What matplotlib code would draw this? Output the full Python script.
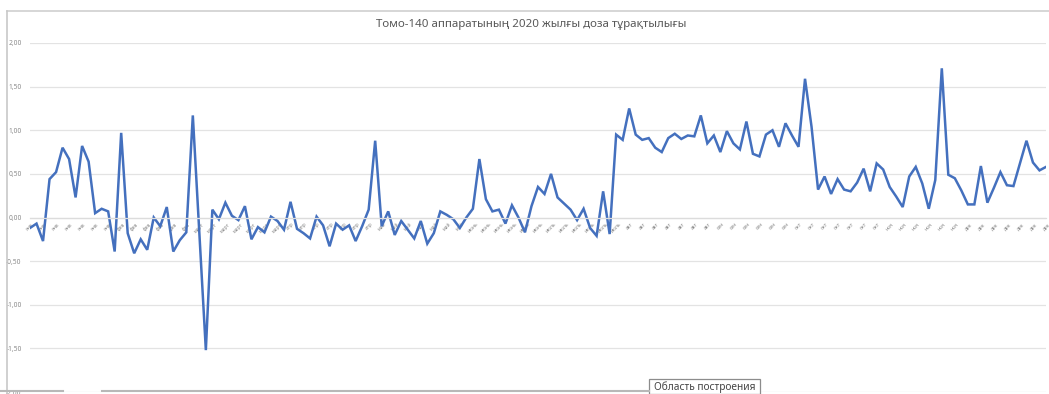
import numpy as np
import matplotlib
matplotlib.use('Agg')
import matplotlib.pyplot as plt
from matplotlib.patches import Rectangle
from matplotlib.lines import Line2D

# шрифт с казахскими буквами
plt.rcParams['font.family'] = ['Noto Sans', 'DejaVu Sans']

title = 'Томо-140 аппаратының 2020 жылғы доза тұрақтылығы'

# месяцы и сколько замеров в каждом
month_names = ['янв', 'фев', 'март', 'апр', 'май', 'июнь',
               'июль', 'авг', 'сен', 'окт', 'ноя', 'дек']
month_counts = [14, 12, 14, 13, 14, 12, 13, 14, 12, 13, 12, 14]

# отклонение дозы, %
dose = [-0.12, -0.07, -0.27, 0.44, 0.52, 0.80, 0.67, 0.23, 0.82, 0.64,
        0.05, 0.10, 0.07, -0.39, 0.97, -0.18, -0.41, -0.25, -0.37, 0.00,
        -0.10, 0.12, -0.39, -0.26, -0.17, 1.17, -0.18, -1.52, 0.09, -0.02,
        0.17, 0.02, -0.03, 0.13, -0.25, -0.11, -0.17, 0.01, -0.04, -0.14,
        0.18, -0.13, -0.18, -0.24, 0.01, -0.09, -0.33, -0.07, -0.14, -0.09,
        -0.27, -0.10, 0.09, 0.88, -0.10, 0.07, -0.20, -0.04, -0.14, -0.24,
        -0.04, -0.30, -0.18, 0.07, 0.03, -0.02, -0.12, 0.00, 0.10, 0.67,
        0.21, 0.07, 0.09, -0.07, 0.14, 0.00, -0.17, 0.13, 0.35, 0.27,
        0.50, 0.23, 0.16, 0.09, -0.03, 0.10, -0.12, -0.21, 0.30, -0.19,
        0.95, 0.89, 1.25, 0.95, 0.89, 0.91, 0.80, 0.75, 0.91, 0.96,
        0.90, 0.94, 0.93, 1.17, 0.85, 0.94, 0.75, 0.99, 0.85, 0.78,
        1.10, 0.73, 0.70, 0.95, 1.00, 0.81, 1.08, 0.94, 0.81, 1.59,
        1.04, 0.32, 0.47, 0.27, 0.44, 0.32, 0.30, 0.40, 0.56, 0.30,
        0.62, 0.55, 0.35, 0.24, 0.12, 0.47, 0.58, 0.39, 0.10, 0.43,
        1.71, 0.49, 0.45, 0.31, 0.15, 0.15, 0.59, 0.17, 0.34, 0.52,
        0.37, 0.36, 0.62, 0.88, 0.63, 0.54, 0.58]

y_ticks = [-2.0, -1.5, -1.0, -0.5, 0.0, 0.5, 1.0, 1.5, 2.0]
y_labels = ['-2,00', '-1,50', '-1,00', '-0,50', '0,00', '0,50', '1,00', '1,50', '2,00']

# подписи категорий
categories = []
for name, cnt in zip(month_names, month_counts):
    categories += [name] * cnt

W, H = 1049, 394
fig = plt.figure(figsize=(W / 100, H / 100), dpi=100)
ax = fig.add_axes([30 / W, 1 - 392 / H, (1046 - 30) / W, (392 - 43) / H])

x = np.arange(len(dose))
ax.plot(x, dose, color='#4470BE', linewidth=1.8, solid_joinstyle='miter')

ax.set_xlim(0, len(dose) - 1)
ax.set_ylim(-2, 2)

# сетка
ax.set_yticks(y_ticks)
ax.set_yticklabels(y_labels)
ax.grid(axis='y', color='#e3e3e3', linewidth=0.9)
ax.set_axisbelow(True)
for s in ['top', 'right', 'left']:
    ax.spines[s].set_visible(False)
ax.spines['bottom'].set_position(('data', 0))
ax.spines['bottom'].set_color('#dcdcdc')
ax.spines['bottom'].set_linewidth(0.9)

ax.tick_params(axis='y', length=0, pad=6, labelsize=4.8, labelcolor='#8a8a8a')

# подписи через одну
ax.set_xticks(x[::2])
ax.set_xticklabels(categories[::2], rotation=45, ha='center', va='top',
                   fontsize=3.6, color='#8a8a8a')
ax.tick_params(axis='x', length=0, pad=3)

# заголовок
fig.text(531 / W, 1 - 25 / H, title, ha='center', va='center',
         fontsize=8.3, color='#595959')

# рамка области диаграммы
fig.add_artist(Line2D([7 / W, 1], [1 - 10.5 / H, 1 - 10.5 / H], color='#d0d0d0', lw=1.2))
fig.add_artist(Line2D([7 / W, 7 / W], [1 - 10.5 / H, 0], color='#c8c8c8', lw=1.2))
fig.add_artist(Line2D([0, 63 / W], [1 - 391 / H, 1 - 391 / H], color='#b8b8b8', lw=1.5))
fig.add_artist(Line2D([102 / W, 649 / W], [1 - 391 / H, 1 - 391 / H], color='#b8b8b8', lw=1.5))

# всплывающая подсказка
fig.add_artist(Rectangle((649 / W, 0), (760 - 649) / W, (394 - 379) / H,
                         facecolor='white', edgecolor='#8c8c8c', linewidth=0.9))
fig.text(704.5 / W, 1 - 387 / H, 'Область построения', ha='center', va='center',
         fontsize=7.3, color='#444444')

fig.savefig('out.png', dpi=100)
